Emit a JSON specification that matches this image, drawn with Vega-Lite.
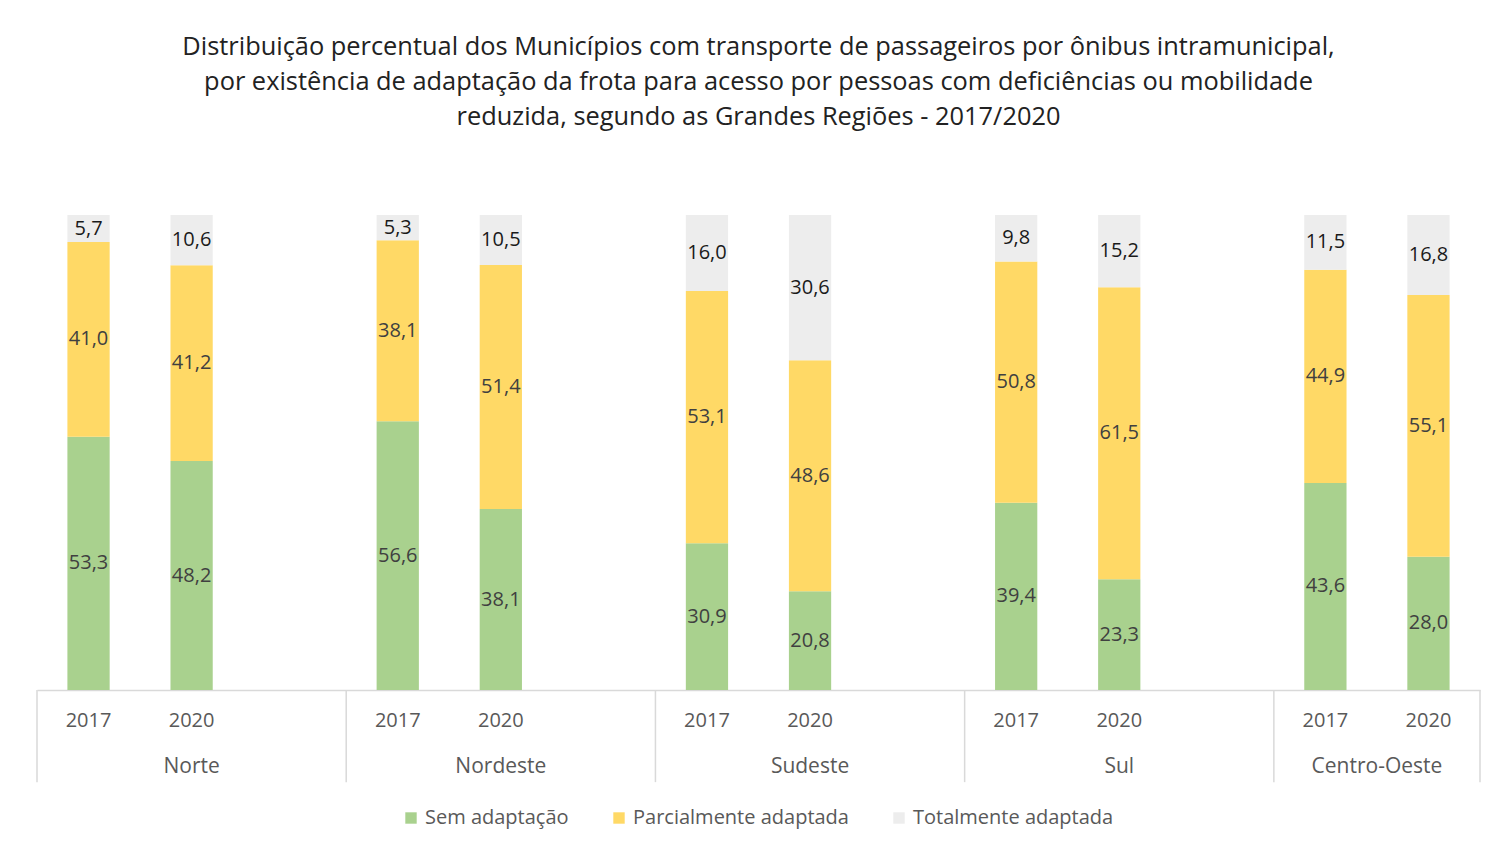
{
  "$schema": "https://vega.github.io/schema/vega-lite/v6.json",
  "width": 1443,
  "height": 475,
  "autosize": {"type": "none"},
  "padding": {"left": 37, "top": 215, "right": 9, "bottom": 160},
  "background": "white",
  "config": {"view": {"stroke": null}, "font": "Open Sans"},
  "title": {
    "text": [
      "Distribuição percentual dos Municípios com transporte de passageiros por ônibus intramunicipal,",
      "por existência de adaptação da frota para acesso por pessoas com deficiências ou mobilidade",
      "reduzida, segundo as Grandes Regiões - 2017/2020"
    ],
    "fontSize": 25.4,
    "font": "Open Sans",
    "fontWeight": "normal",
    "color": "#222222",
    "lineHeight": 35,
    "offset": 85,
    "anchor": "middle"
  },
  "data": {
    "values": [
      {"region": "Norte", "year": "2017", "cat": "Sem adaptação", "value": 53.3},
      {"region": "Norte", "year": "2017", "cat": "Parcialmente adaptada", "value": 41.0},
      {"region": "Norte", "year": "2017", "cat": "Totalmente adaptada", "value": 5.7},
      {"region": "Norte", "year": "2020", "cat": "Sem adaptação", "value": 48.2},
      {"region": "Norte", "year": "2020", "cat": "Parcialmente adaptada", "value": 41.2},
      {"region": "Norte", "year": "2020", "cat": "Totalmente adaptada", "value": 10.6},
      {"region": "Nordeste", "year": "2017", "cat": "Sem adaptação", "value": 56.6},
      {"region": "Nordeste", "year": "2017", "cat": "Parcialmente adaptada", "value": 38.1},
      {"region": "Nordeste", "year": "2017", "cat": "Totalmente adaptada", "value": 5.3},
      {"region": "Nordeste", "year": "2020", "cat": "Sem adaptação", "value": 38.1},
      {"region": "Nordeste", "year": "2020", "cat": "Parcialmente adaptada", "value": 51.4},
      {"region": "Nordeste", "year": "2020", "cat": "Totalmente adaptada", "value": 10.5},
      {"region": "Sudeste", "year": "2017", "cat": "Sem adaptação", "value": 30.9},
      {"region": "Sudeste", "year": "2017", "cat": "Parcialmente adaptada", "value": 53.1},
      {"region": "Sudeste", "year": "2017", "cat": "Totalmente adaptada", "value": 16.0},
      {"region": "Sudeste", "year": "2020", "cat": "Sem adaptação", "value": 20.8},
      {"region": "Sudeste", "year": "2020", "cat": "Parcialmente adaptada", "value": 48.6},
      {"region": "Sudeste", "year": "2020", "cat": "Totalmente adaptada", "value": 30.6},
      {"region": "Sul", "year": "2017", "cat": "Sem adaptação", "value": 39.4},
      {"region": "Sul", "year": "2017", "cat": "Parcialmente adaptada", "value": 50.8},
      {"region": "Sul", "year": "2017", "cat": "Totalmente adaptada", "value": 9.8},
      {"region": "Sul", "year": "2020", "cat": "Sem adaptação", "value": 23.3},
      {"region": "Sul", "year": "2020", "cat": "Parcialmente adaptada", "value": 61.5},
      {"region": "Sul", "year": "2020", "cat": "Totalmente adaptada", "value": 15.2},
      {"region": "Centro-Oeste", "year": "2017", "cat": "Sem adaptação", "value": 43.6},
      {"region": "Centro-Oeste", "year": "2017", "cat": "Parcialmente adaptada", "value": 44.9},
      {"region": "Centro-Oeste", "year": "2017", "cat": "Totalmente adaptada", "value": 11.5},
      {"region": "Centro-Oeste", "year": "2020", "cat": "Sem adaptação", "value": 28.0},
      {"region": "Centro-Oeste", "year": "2020", "cat": "Parcialmente adaptada", "value": 55.1},
      {"region": "Centro-Oeste", "year": "2020", "cat": "Totalmente adaptada", "value": 16.8}
    ]
  },
  "transform": [
    {"calculate": "datum.region + '|' + datum.year", "as": "key"},
    {"calculate": "indexof(['Sem adaptação','Parcialmente adaptada','Totalmente adaptada'], datum.cat)", "as": "ord"},
    {"stack": "value", "groupby": ["key"], "sort": [{"field": "ord", "order": "ascending"}], "offset": "normalize", "as": ["y0", "y1"]},
    {"calculate": "(datum.y0 + datum.y1) / 2", "as": "ymid"},
    {"calculate": "replace(format(datum.value, '.1f'), '.', ',')", "as": "label"}
  ],
  "encoding": {
    "x": {
      "field": "key", "type": "nominal",
      "scale": {
        "domain": ["Norte|2017", "Norte|2020", "Norte|", "Nordeste|2017", "Nordeste|2020", "Nordeste|", "Sudeste|2017", "Sudeste|2020", "Sudeste|", "Sul|2017", "Sul|2020", "Sul|", "Centro-Oeste|2017", "Centro-Oeste|2020"],
        "paddingInner": 0, "paddingOuter": 0
      },
      "axis": {
        "title": null, "ticks": false, "domain": true, "domainColor": "#d9d9d9", "domainWidth": 1.5,
        "labels": true,
        "labelExpr": "split(datum.value, '|')[1]", "labelAngle": 0,
        "labelFontSize": 20, "labelColor": "#595959", "labelPadding": 20,
        "labelFont": "Open Sans", "labelBaseline": "top", "labelOverlap": false
      }
    }
  },
  "layer": [
    {
      "mark": {"type": "bar", "width": {"band": 0.41}},
      "encoding": {
        "y": {"field": "y0", "type": "quantitative", "scale": {"domain": [0, 1]}, "axis": null},
        "y2": {"field": "y1"},
        "color": {
          "field": "cat", "type": "nominal",
          "scale": {"domain": ["Sem adaptação", "Parcialmente adaptada", "Totalmente adaptada"], "range": ["#A9D18E", "#FFD966", "#EDEDED"]},
          "legend": {
            "orient": "none", "legendX": 364, "legendY": 593, "direction": "horizontal",
            "title": null, "symbolType": "square", "symbolSize": 130, "symbolStrokeWidth": 0,
            "labelFontSize": 20, "labelColor": "#595959", "labelFont": "Open Sans",
            "columnPadding": 40, "labelOffset": 4, "labelLimit": 0
          }
        }
      }
    },
    {
      "mark": {"type": "text", "fontSize": 20, "font": "Open Sans", "baseline": "middle"},
      "encoding": {
        "y": {"field": "ymid", "type": "quantitative"},
        "text": {"field": "label"},
        "color": {"condition": {"test": "datum.cat === 'Totalmente adaptada'", "value": "#1a1a1a"}, "value": "#404040"}
      }
    },
    {
      "transform": [{"filter": "datum.year === '2017' && datum.cat === 'Sem adaptação'"}],
      "mark": {"type": "rule", "color": "#d9d9d9", "strokeWidth": 1.5},
      "encoding": {
        "x": {"field": "key", "type": "nominal", "bandPosition": 0, "axis": {"title": null}},
        "y": {"datum": 0, "type": "quantitative"},
        "y2": {"datum": -0.194}
      }
    },
    {
      "transform": [{"filter": "datum.key === 'Centro-Oeste|2020' && datum.cat === 'Sem adaptação'"}],
      "mark": {"type": "rule", "color": "#d9d9d9", "strokeWidth": 1.5},
      "encoding": {
        "x": {"field": "key", "type": "nominal", "bandPosition": 1, "axis": {"title": null}},
        "y": {"datum": 0, "type": "quantitative"},
        "y2": {"datum": -0.194}
      }
    },
    {
      "transform": [{"filter": "datum.year === '2020' && datum.region !== 'Centro-Oeste' && datum.cat === 'Sem adaptação'"}],
      "mark": {"type": "text", "fontSize": 21, "font": "Open Sans", "color": "#595959", "baseline": "middle"},
      "encoding": {
        "x": {"field": "key", "type": "nominal", "bandPosition": 0.5, "axis": {"title": null}},
        "y": {"datum": -0.162, "type": "quantitative"},
        "text": {"field": "region"}
      }
    },
    {
      "transform": [{"filter": "datum.key === 'Centro-Oeste|2020' && datum.cat === 'Sem adaptação'"}],
      "mark": {"type": "text", "fontSize": 21, "font": "Open Sans", "color": "#595959", "baseline": "middle"},
      "encoding": {
        "x": {"field": "key", "type": "nominal", "bandPosition": 0, "axis": {"title": null}},
        "y": {"datum": -0.162, "type": "quantitative"},
        "text": {"field": "region"}
      }
    }
  ]
}
